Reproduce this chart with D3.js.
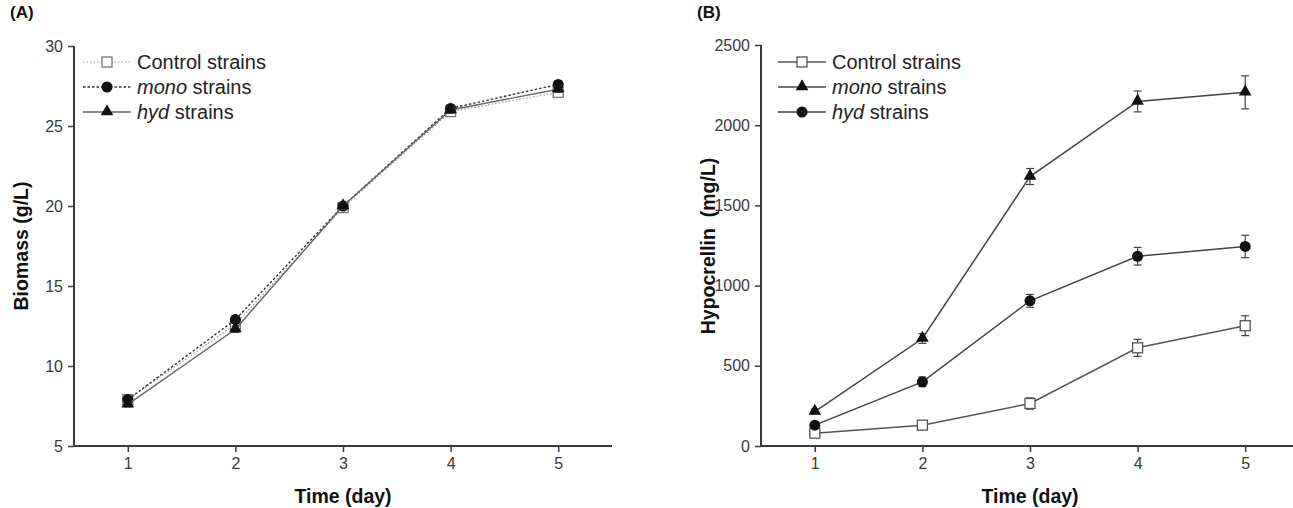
<!DOCTYPE html>
<html>
<head>
<meta charset="utf-8">
<script src="https://cdnjs.cloudflare.com/ajax/libs/d3/7.8.5/d3.min.js"></script>
<style>
body { margin: 0; background: #fff; }
text { font-family: "Liberation Sans", Arial, sans-serif; }
</style>
</head>
<body>
<script>
var w = 1293;
var h = 508;

var days = [1, 2, 3, 4, 5];

// panel A biomass (g/L)
var bioControl = [7.9, 12.6, 19.9, 25.9, 27.1];
var bioMono = [7.9, 12.9, 20.0, 26.1, 27.6];
var bioHyd = [7.6, 12.3, 20.0, 26.0, 27.3];
var bioErr = [0.15, 0.2, 0.2, 0.2, 0.2];
var bioTicks = [5, 10, 15, 20, 25, 30];

// panel B hypocrellin (mg/L)
var hypControl = [80, 130, 265, 612, 750];
var hypControlErr = [10, 20, 35, 53, 62];
var hypMono = [215, 670, 1680, 2148, 2205];
var hypMonoErr = [15, 30, 50, 65, 103];
var hypHyd = [130, 400, 905, 1183, 1244];
var hypHydErr = [15, 30, 40, 55, 70];
var hypTicks = [0, 500, 1000, 1500, 2000, 2500];

var svg = d3.select("body").append("svg")
    .attr("width", w)
    .attr("height", h);

var axisColor = "#3a3a3a";

function marker(g, type, x, y, fill, stroke) {
    if (type == "square") {
        g.append("rect")
            .attr("x", x - 5).attr("y", y - 5)
            .attr("width", 10).attr("height", 10)
            .attr("fill", "#fff")
            .attr("stroke", stroke)
            .attr("stroke-width", 1.3);
    } else if (type == "circle") {
        g.append("circle")
            .attr("cx", x).attr("cy", y).attr("r", 5.5)
            .attr("fill", fill);
    } else {
        g.append("path")
            .attr("d", d3.symbol().type(d3.symbolTriangle).size(70)())
            .attr("transform", "translate(" + x + "," + (y - 0.5) + ")")
            .attr("fill", fill);
    }
}

function drawPanel(opt) {
    var x = d3.scaleLinear().domain([0.5, 5.5]).range([opt.left, opt.left + 538]);
    var y = d3.scaleLinear().domain(opt.yDomain).range([446, opt.top]);

    // axes
    var xAxis = svg.append("g")
        .attr("transform", "translate(0,446)")
        .call(d3.axisBottom(x).tickValues(days).tickSize(6).tickPadding(6).tickFormat(d3.format("d")));
    var yAxis = svg.append("g")
        .attr("transform", "translate(" + opt.left + ",0)")
        .call(d3.axisLeft(y).tickValues(opt.ticks).tickSize(6).tickPadding(5).tickFormat(d3.format("d")));
    [xAxis, yAxis].forEach(function (a) {
        a.select(".domain").attr("stroke", axisColor).attr("stroke-width", 2);
        a.selectAll(".tick line").attr("stroke", axisColor).attr("stroke-width", 1.5);
        a.selectAll(".tick text").attr("fill", "#383838").attr("font-size", 16)
            .attr("font-family", "Liberation Sans, Arial, sans-serif");
    });
    // plain axis lines, no outer ticks
    xAxis.select(".domain").attr("d", "M" + opt.left + ",0H" + (opt.left + 538));
    yAxis.select(".domain").attr("d", "M0," + opt.top + "V446");

    // titles
    svg.append("text")
        .text(opt.label)
        .attr("x", opt.left - 64)
        .attr("y", 18)
        .attr("font-size", 17)
        .attr("font-weight", "bold")
        .attr("fill", "#111");
    svg.append("text")
        .text("Time (day)")
        .attr("x", x(3))
        .attr("y", 503)
        .attr("text-anchor", "middle")
        .attr("font-size", 19.5)
        .attr("font-weight", "bold")
        .attr("fill", "#111");
    svg.append("text")
        .text(opt.yTitle)
        .attr("transform", "translate(" + (opt.left - 46) + ",246) rotate(-90)")
        .attr("text-anchor", "middle")
        .attr("xml:space", "preserve")
        .attr("font-size", 19.5)
        .attr("font-weight", "bold")
        .attr("fill", "#111");

    var line = d3.line()
        .x(function (d, i) { return x(days[i]); })
        .y(function (d) { return y(d); });

    opt.series.forEach(function (s) {
        svg.append("path")
            .datum(s.values)
            .attr("d", line)
            .attr("fill", "none")
            .attr("stroke", s.color)
            .attr("stroke-width", s.width)
            .attr("stroke-dasharray", s.dash);
        var g = svg.append("g");
        s.values.forEach(function (v, i) {
            var e = s.err[i];
            var cx = x(days[i]);
            g.append("line")
                .attr("x1", cx).attr("x2", cx)
                .attr("y1", y(v - e)).attr("y2", y(v + e))
                .attr("stroke", "#444").attr("stroke-width", 1.2);
            [v - e, v + e].forEach(function (c) {
                g.append("line")
                    .attr("x1", cx - 4).attr("x2", cx + 4)
                    .attr("y1", y(c)).attr("y2", y(c))
                    .attr("stroke", "#444").attr("stroke-width", 1.2);
            });
        });
        s.values.forEach(function (v, i) {
            marker(g, s.marker, x(days[i]), y(v), s.fill, s.mstroke);
        });
    });

    // legend
    var lx = opt.left + opt.legX;
    opt.series.forEach(function (s, i) {
        var ly = 62 + i * 25;
        svg.append("line")
            .attr("x1", lx).attr("x2", lx + 48)
            .attr("y1", ly).attr("y2", ly)
            .attr("stroke", s.color)
            .attr("stroke-width", s.width)
            .attr("stroke-dasharray", s.dash);
        marker(svg, s.marker, lx + 24, ly, s.fill, s.mstroke);
        var t = svg.append("text")
            .attr("x", lx + 54)
            .attr("y", ly + 7)
            .attr("font-size", 20)
            .attr("fill", "#222");
        if (s.italic) {
            t.append("tspan").text(s.italic).attr("font-style", "italic");
            t.append("tspan").text(" strains");
        } else {
            t.text(s.name);
        }
    });
}

drawPanel({
    left: 74, top: 46, yDomain: [5, 30], ticks: bioTicks, label: "(A)",
    yTitle: "Biomass (g/L)", legX: 9,
    series: [
        {name: "Control strains", values: bioControl, err: bioErr, marker: "square",
         color: "#9a9a9a", width: 1.2, dash: "1.5,2", fill: "#fff", mstroke: "#777"},
        {italic: "mono", values: bioMono, err: bioErr, marker: "circle",
         color: "#333", width: 1.4, dash: "2.5,2", fill: "#111", mstroke: "#111"},
        {italic: "hyd", values: bioHyd, err: bioErr, marker: "triangle",
         color: "#666", width: 1.4, dash: null, fill: "#111", mstroke: "#111"}
    ]
});

drawPanel({
    left: 761, top: 45, yDomain: [0, 2500], ticks: hypTicks, label: "(B)",
    yTitle: "Hypocrellin  (mg/L)", legX: 17,
    series: [
        {name: "Control strains", values: hypControl, err: hypControlErr, marker: "square",
         color: "#555", width: 1.5, dash: null, fill: "#fff", mstroke: "#555"},
        {italic: "mono", values: hypMono, err: hypMonoErr, marker: "triangle",
         color: "#444", width: 1.5, dash: null, fill: "#111", mstroke: "#111"},
        {italic: "hyd", values: hypHyd, err: hypHydErr, marker: "circle",
         color: "#444", width: 1.5, dash: null, fill: "#111", mstroke: "#111"}
    ]
});
</script>
</body>
</html>
